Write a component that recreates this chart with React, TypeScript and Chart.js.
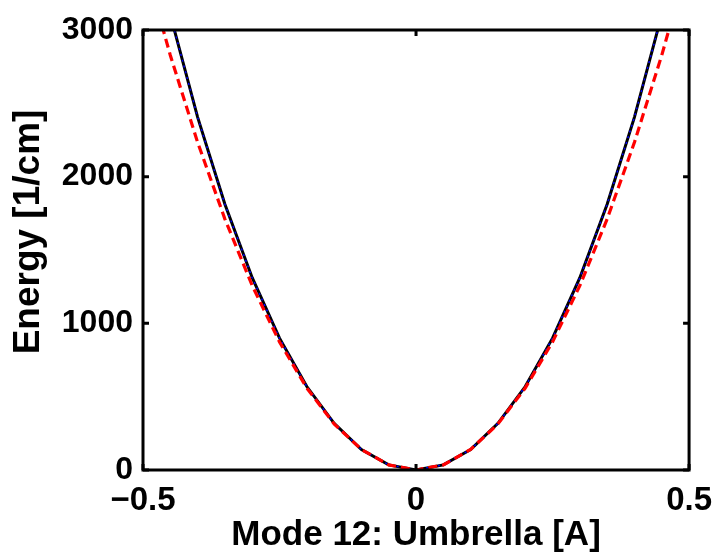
import React, { useEffect, useRef } from "react";
import { Chart, registerables } from "chart.js";

Chart.register(...registerables);

const xValues = [-0.5, -0.45, -0.4, -0.35, -0.3, -0.25, -0.2, -0.15, -0.1, -0.05, 0, 0.05, 0.1, 0.15, 0.2, 0.25, 0.3, 0.35, 0.4, 0.45, 0.5];
const blackSeries = [3911, 3104, 2406, 1812, 1311, 899, 569, 318, 140, 35, 0, 35, 140, 318, 569, 899, 1311, 1812, 2406, 3104, 3911];
const blueSeries = [3911, 3104, 2406, 1812, 1311, 899, 569, 318, 140, 35, 0, 35, 140, 318, 569, 899, 1311, 1812, 2406, 3104, 3911];
const redSeries = [3491, 2828, 2234, 1711, 1257, 873, 559, 314, 140, 35, 0, 35, 140, 314, 559, 873, 1257, 1711, 2234, 2828, 3491];
const xTickValues = [-0.5, 0, 0.5];
const xTickLabels = ["\u22120.5", "0", "0.5"];
const yTickValues = [0, 1000, 2000, 3000];
const yTickLabels = ["0", "1000", "2000", "3000"];
const xTitle = "Mode 12: Umbrella [A]";
const yTitle = "Energy [1/cm]";

const FONT = "'Liberation Sans', Arial, sans-serif";

const boxPlugin = {
  id: "matlabBox",
  afterDraw(chart: any) {
    const { ctx, chartArea } = chart;
    const { left, right, top, bottom } = chartArea;
    const xs = chart.scales.x;
    const ys = chart.scales.y;
    const tl = 6;
    ctx.save();
    ctx.strokeStyle = "#000";
    ctx.lineWidth = 3;
    ctx.lineCap = "butt";
    ctx.beginPath();
    ctx.rect(left, top, right - left, bottom - top);
    ctx.stroke();
    ctx.beginPath();
    for (const v of xTickValues) {
      const px = xs.getPixelForValue(v);
      ctx.moveTo(px, bottom);
      ctx.lineTo(px, bottom - tl);
      ctx.moveTo(px, top);
      ctx.lineTo(px, top + tl);
    }
    for (const v of yTickValues) {
      const py = ys.getPixelForValue(v);
      ctx.moveTo(left, py);
      ctx.lineTo(left + tl, py);
      ctx.moveTo(right, py);
      ctx.lineTo(right - tl, py);
    }
    ctx.stroke();
    // y-axis title
    ctx.translate(29, 232);
    ctx.rotate(-Math.PI / 2);
    ctx.fillStyle = "#000";
    ctx.font = `bold 37px ${FONT}`;
    ctx.textAlign = "center";
    ctx.textBaseline = "middle";
    ctx.fillText(yTitle, 0, 0);
    ctx.restore();
  },
};

export default function App() {
  const ref = useRef<HTMLCanvasElement | null>(null);
  useEffect(() => {
    if (!ref.current) return;
    const toPts = (ys: number[]) => xValues.map((x, i) => ({ x, y: ys[i] }));
    const chart = new Chart(ref.current, {
      type: "line",
      data: {
        datasets: [
          {
            data: toPts(redSeries),
            borderColor: "#ff0000",
            borderWidth: 3.2,
            borderDash: [9, 5],
            pointRadius: 0,
            tension: 0,
            order: 0,
          },
          {
            data: toPts(blueSeries),
            borderColor: "#0000ff",
            borderWidth: 1.5,
            borderDash: [2, 4],
            pointRadius: 0,
            tension: 0,
            order: 1,
          },
          {
            data: toPts(blackSeries),
            borderColor: "#000000",
            borderWidth: 3,
            pointRadius: 0,
            tension: 0,
            order: 2,
          },
        ],
      },
      options: {
        animation: false,
        responsive: false,
        devicePixelRatio: 1,
        layout: { padding: { top: 30, right: 32, left: 0, bottom: 0 } },
        plugins: { legend: { display: false }, tooltip: { enabled: false } },
        scales: {
          x: {
            type: "linear",
            min: -0.5,
            max: 0.5,
            afterFit: (s: any) => { s.height = 86; },
            afterBuildTicks: (s: any) => { s.ticks = xTickValues.map((v) => ({ value: v })); },
            grid: { display: false, drawTicks: false },
            border: { display: false },
            ticks: {
              padding: 11,
              color: "#000",
              font: { family: FONT, size: 33, weight: "bold" },
              callback: (v: any) => { const i = xTickValues.indexOf(Number(v)); return i >= 0 ? xTickLabels[i] : ""; },
              maxRotation: 0,
            },
            title: {
              display: true,
              text: xTitle,
              color: "#000",
              font: { family: FONT, size: 35, weight: "bold" },
              padding: { top: 0, bottom: 0 },
            },
          },
          y: {
            type: "linear",
            min: 0,
            max: 3000,
            afterFit: (s: any) => { s.width = 143; },
            afterBuildTicks: (s: any) => { s.ticks = yTickValues.map((v) => ({ value: v })); },
            grid: { display: false, drawTicks: false },
            border: { display: false },
            ticks: {
              padding: 10,
              color: "#000",
              font: { family: FONT, size: 32, weight: "bold" },
              callback: (v: any) => { const i = yTickValues.indexOf(Number(v)); return i >= 0 ? yTickLabels[i] : ""; },
            },
            title: { display: false },
          },
        },
      },
      plugins: [boxPlugin],
    });
    return () => chart.destroy();
  }, []);
  return (
    <div style={{ position: "fixed", left: 0, top: 0, width: 723, height: 556, background: "#fff" }}>
      <canvas ref={ref} width={723} height={556} style={{ display: "block" }} />
    </div>
  );
}
